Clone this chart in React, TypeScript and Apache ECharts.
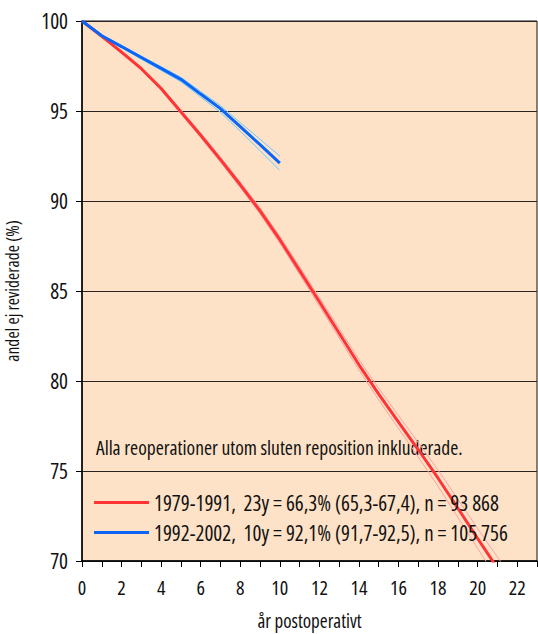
import React, { useEffect, useRef } from "react";
import * as echarts from "echarts";

const redYears = [0, 1, 2, 3, 4, 5, 6, 7, 8, 9, 10, 11, 12, 13, 14, 15, 16, 17, 18, 19, 20, 21, 22, 23];
const redMid = [100, 99.15, 98.27, 97.35, 96.25, 94.95, 93.65, 92.3, 90.9, 89.45, 87.85, 86.13, 84.4, 82.65, 80.9, 79.27, 77.72, 76.18, 74.6, 72.93, 71.25, 69.6, 67.95, 66.3];
const redLow = [100, 99.1, 98.2, 97.27, 96.15, 94.84, 93.53, 92.16, 90.75, 89.28, 87.66, 85.92, 84.17, 82.39, 80.61, 78.95, 77.36, 75.78, 74.15, 72.43, 70.7, 68.98, 67.2, 65.3];
const redHigh = [100, 99.2, 98.34, 97.43, 96.35, 95.06, 93.77, 92.44, 91.05, 89.62, 88.04, 86.34, 84.63, 82.91, 81.19, 79.59, 78.08, 76.58, 75.05, 73.43, 71.8, 70.22, 68.7, 67.4];

const blueYears = [0, 1, 2, 3, 4, 5, 6, 7, 8, 9, 10];
const blueMid = [100, 99.18, 98.58, 97.97, 97.37, 96.76, 95.94, 95.13, 94.13, 93.13, 92.1];
const blueLow = [100, 99.13, 98.51, 97.88, 97.26, 96.63, 95.78, 94.93, 93.88, 92.8, 91.7];
const blueHigh = [100, 99.22, 98.64, 98.05, 97.46, 96.87, 96.08, 95.3, 94.35, 93.43, 92.5];

const redName = "1979-1991,  23y = 66,3% (65,3-67,4), n = 93 868";
const blueName = "1992-2002,  10y = 92,1% (91,7-92,5), n = 105 756";
const noteText = "Alla reoperationer utom sluten reposition inkluderade.";
const yTitle = "andel ej reviderade (%)";
const xTitle = "år postoperativt";

const FONT = '"Open Sans", "Roboto Condensed", sans-serif';

const pairs = (xs: number[], ys: number[]) => ys.map((v, i) => [xs[i], v]);

export default function App() {
  const ref = useRef<HTMLDivElement>(null);
  useEffect(() => {
    document.body.style.margin = "0";
    const chart = echarts.init(ref.current!, null, { renderer: "svg" });
    const thin = (name: string, data: number[][], color: string) => ({
      name,
      type: "line",
      data,
      symbol: "none",
      lineStyle: { color, width: 1 },
      z: 2,
    });
    chart.setOption({
      animation: false,
      textStyle: { fontFamily: FONT },
      grid: {
        left: 82,
        top: 21,
        width: 455,
        height: 540,
        outerBoundsMode: "none",
        containLabel: false,
        show: true,
        backgroundColor: "#fde2c7",
        borderColor: "#111",
        borderWidth: 1,
      },
      xAxis: {
        type: "value",
        min: 0,
        max: 23,
        interval: 1,
        name: xTitle,
        nameLocation: "middle",
        nameGap: 50,
        nameTextStyle: { fontFamily: FONT, fontSize: 19, color: "#111" },
        axisLine: { show: true, lineStyle: { color: "#000", width: 1.5 } },
        axisTick: { show: true, inside: false, length: 6, lineStyle: { color: "#000" } },
        axisLabel: {
          fontFamily: FONT,
          fontSize: 20,
          color: "#111",
          margin: 16,
          interval: 0,
          formatter: (v: number) => (v % 2 === 0 && v <= 22 ? String(v) : ""),
        },
        splitLine: { show: false },
      },
      yAxis: {
        type: "value",
        min: 70,
        max: 100,
        interval: 5,
        name: yTitle,
        nameLocation: "middle",
        nameGap: 49,
        nameRotate: 90,
        nameTextStyle: { fontFamily: FONT, fontSize: 17.5, color: "#111" },
        axisLine: { show: true, lineStyle: { color: "#000", width: 1.5 } },
        axisTick: { show: true, inside: false, length: 6, lineStyle: { color: "#000" } },
        axisLabel: { fontFamily: FONT, fontSize: 21, color: "#111", margin: 14 },
        splitLine: { show: true, lineStyle: { color: "#2a2420", width: 1 } },
      },
      legend: {
        data: [redName, blueName],
        orient: "vertical",
        left: 94,
        top: 492,
        padding: 0,
        itemGap: 9,
        itemWidth: 55,
        itemHeight: 3,
        icon: "rect",
        textStyle: { fontFamily: FONT, fontSize: 21, color: "#111" },
      },
      graphic: [
        {
          type: "text",
          left: 96,
          top: 437,
          style: { text: noteText, fontFamily: FONT, fontSize: 19.5, fill: "#111" },
        },
      ],
      series: [
        thin("red-low", pairs(redYears, redLow), "#ffa0a0"),
        thin("red-high", pairs(redYears, redHigh), "#ffa0a0"),
        thin("blue-low", pairs(blueYears, blueLow), "#66c8ff"),
        thin("blue-high", pairs(blueYears, blueHigh), "#66c8ff"),
        {
          name: redName,
          type: "line",
          data: pairs(redYears, redMid),
          symbol: "none",
          itemStyle: { color: "#ff3535" },
          lineStyle: { color: "#ff3535", width: 3 },
          z: 3,
        },
        {
          name: blueName,
          type: "line",
          data: pairs(blueYears, blueMid),
          symbol: "none",
          itemStyle: { color: "#0a64f5" },
          lineStyle: { color: "#0a64f5", width: 3 },
          z: 3,
        },
      ],
    });
    return () => chart.dispose();
  }, []);
  return (
    <>
      <style>{"#chart-box text { font-stretch: 75%; }"}</style>
      <div id="chart-box" ref={ref} style={{ width: 538, height: 634 }} />
    </>
  );
}
